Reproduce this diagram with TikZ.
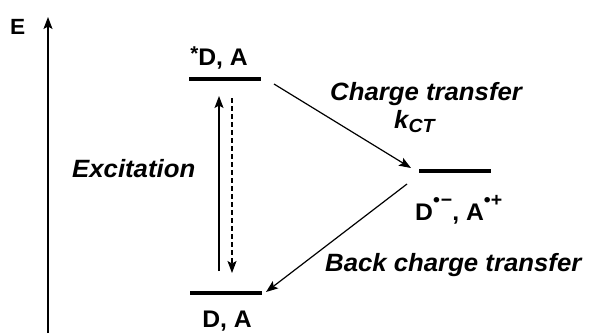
\documentclass[tikz,border=0pt]{standalone}
\usepackage{fontspec}
\setmainfont[FakeStretch=1.03]{Liberation Sans}
\usetikzlibrary{arrows.meta}
\begin{document}
\begin{tikzpicture}[x=1pt,y=-1pt,
  bar/.style={draw=none,fill=black,minimum width=72pt,minimum height=4.5pt,inner sep=0pt},
  conn/.style={line width=1.2pt,-{Stealth[length=12pt,width=9pt,inset=2.5pt]}},
  lab/.style={font=\fontsize{25}{29}\selectfont\bfseries\itshape,inner sep=0pt,anchor=base west},
  state/.style={font=\fontsize{24}{28}\selectfont\bfseries,inner sep=0pt,anchor=base}]
\useasboundingbox (0,0) rectangle (594,333);

% energy axis
\node[font=\fontsize{22}{25}\selectfont\bfseries,inner sep=0pt,anchor=base west] (E) at (10,34) {E};
\coordinate (ax0) at (48,333);
\coordinate (ax1) at (48,17);
\draw[conn] (ax0) -- (ax1);

% energy levels
\node[bar] (top) at (225,79) {};
\node[bar] (ct)  at (455,171) {};
\node[bar] (bot) at (226,293) {};

% level labels
\node[state] (topl) at (219,65) {\raisebox{5pt}{\fontsize{20}{20}\selectfont *}D, A};
\node[state] (botl) at (227,327) {D, A};
\node[state,anchor=base west] (ctl) at (415,220)
  {D\raisebox{14pt}{\fontsize{19}{19}\selectfont •\hspace{1pt}−}, A\raisebox{14pt}{\fontsize{19}{19}\selectfont •+}};

% excitation and relaxation
\coordinate (ex0) at (219,271);
\coordinate (ex1) at (219,96);
\draw[conn] (ex0) -- (ex1);
\coordinate (rl0) at (232,98);
\coordinate (rl1) at (232,273);
\draw[conn,dash pattern=on 5pt off 3pt] (rl0) -- (rl1);

% charge transfer and back transfer
\coordinate (ct0) at (274,84);
\coordinate (ct1) at (411,168);
\draw[conn] (ct0) -- (ct1);
\coordinate (bt0) at (407,184);
\coordinate (bt1) at (266,292);
\draw[conn] (bt0) -- (bt1);

% process labels
\node[lab] (exl) at (72,177) {Excitation};
\node[lab] (ctlab) at (330,100) {Charge transfer};
\node[lab] (kct) at (394,128) {k\raisebox{-4pt}{\fontsize{19}{19}\selectfont CT}};
\node[lab] (btl) at (325,271) {Back charge transfer};
\end{tikzpicture}
\end{document}
